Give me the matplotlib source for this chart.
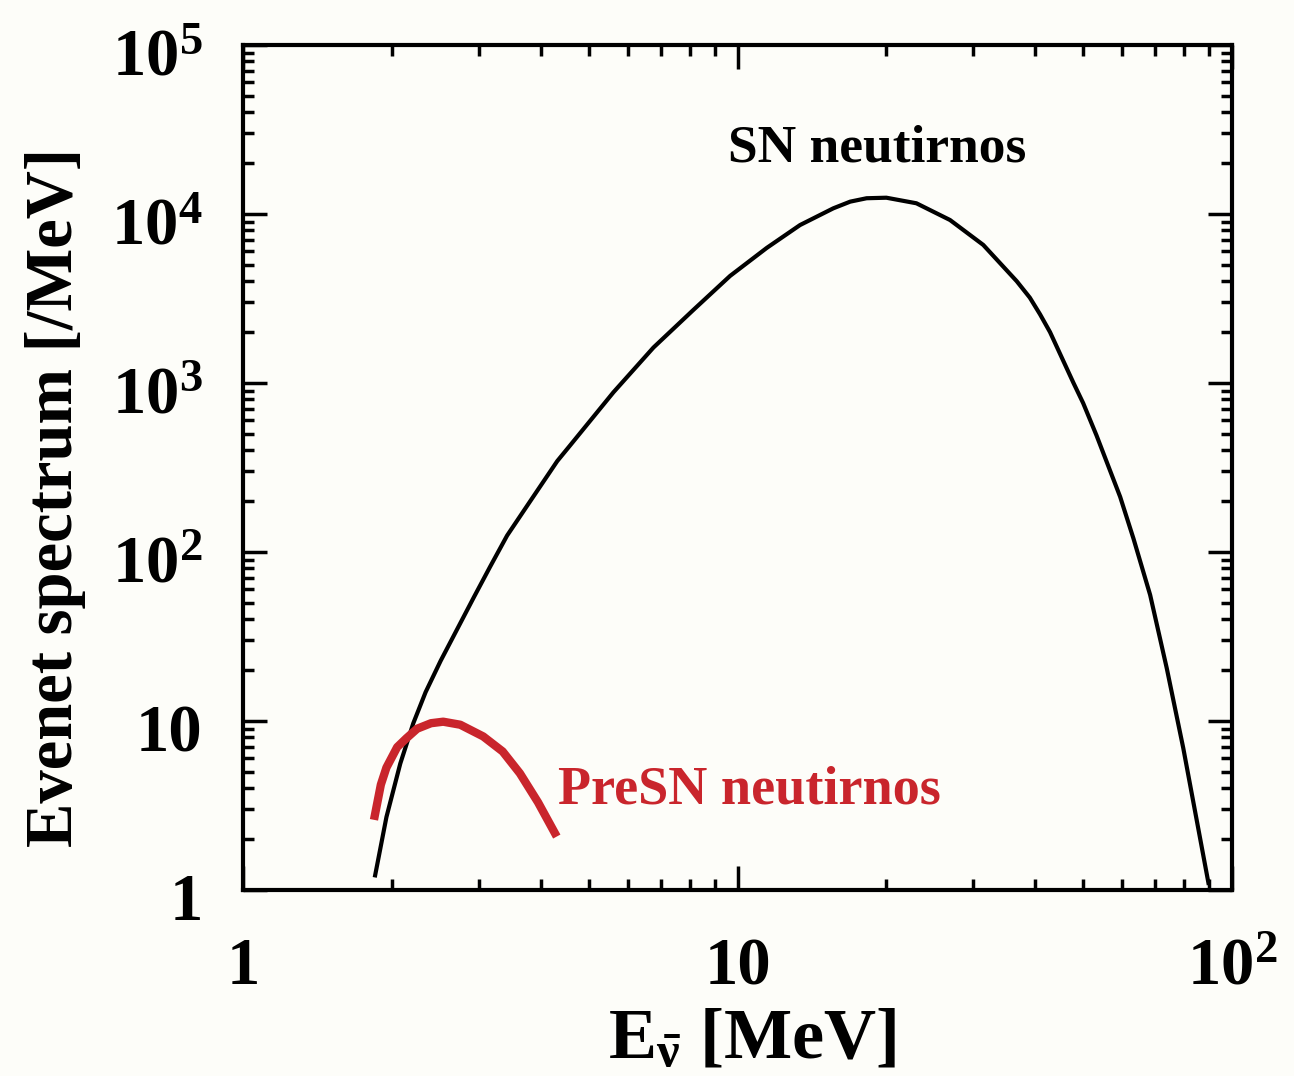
import numpy as np
import matplotlib.pyplot as plt
import matplotlib.transforms as mtransforms
from matplotlib.ticker import FixedLocator, FixedFormatter, LogLocator, NullFormatter

plt.rcParams['font.family'] = ['Liberation Serif', 'DejaVu Serif']
plt.rcParams['font.weight'] = 'bold'
plt.rcParams['mathtext.fontset'] = 'custom'
plt.rcParams['mathtext.rm'] = 'Liberation Serif:bold'
plt.rcParams['mathtext.it'] = 'Liberation Serif:bold'
plt.rcParams['mathtext.bf'] = 'Liberation Serif:bold'

# SN neutrino spectrum
sn_E = [1.85, 1.95, 2.08, 2.21, 2.34, 2.51, 2.93, 3.16, 3.42, 3.81, 4.32,
        4.58, 5.61, 6.76, 8.14, 9.66, 11.46, 13.38, 15.62, 16.9, 18.24, 20.0,
        23.0, 26.9, 31.4, 36.7, 39.0, 40.9, 42.85, 47.8, 50.0, 53.2, 59.4,
        63.2, 68.3, 73.8, 79.7, 89.6]
sn_N = [1.22, 2.7, 5.6, 9.7, 14.8, 22.7, 54, 81.8, 125, 200, 345,
        425, 880, 1620, 2704, 4300, 6300, 8600, 10800, 11830, 12390, 12480,
        11570, 9210, 6560, 4000, 3200, 2550, 2000, 1000, 760, 490, 212,
        120, 55.7, 20.5, 6.9, 1.1]

# pre-SN neutrino spectrum
pre_E = [1.84, 1.90, 1.95, 2.05, 2.14, 2.25, 2.40, 2.54, 2.75, 3.06, 3.35,
         3.63, 3.95, 4.31]
pre_N = [2.6, 4.2, 5.3, 7.0, 7.9, 9.0, 9.7, 9.9, 9.5, 8.1, 6.6,
         4.9, 3.3, 2.07]

xticks = [1, 10, 100]
xlabels = ['1', '10', r'$10^{2}$']
yticks = [1, 10, 100, 1e3, 1e4, 1e5]
ylabels = ['1', '10', r'$10^{2}$', r'$10^{3}$', r'$10^{4}$', r'$10^{5}$']

fig = plt.figure(figsize=(12.94, 10.76), dpi=100, facecolor='#fdfdf9')
ax = fig.add_axes([0.1878, 0.1729, 0.7643, 0.7853])
ax.set_facecolor('#fdfdf9')

ax.plot(sn_E, sn_N, color='black', lw=3, solid_joinstyle='round')
ax.plot(pre_E, pre_N, color='#c9252c', lw=6, solid_capstyle='butt',
        solid_joinstyle='round')

ax.set_xscale('log')
ax.set_yscale('log')
ax.set_xlim(1, 100)
ax.set_ylim(1, 1e5)

ax.xaxis.set_major_locator(FixedLocator(xticks))
ax.xaxis.set_major_formatter(FixedFormatter(xlabels))
ax.yaxis.set_major_locator(FixedLocator(yticks))
ax.yaxis.set_major_formatter(FixedFormatter(ylabels))
ax.xaxis.set_minor_locator(LogLocator(base=10, subs=np.arange(2, 10)))
ax.yaxis.set_minor_locator(LogLocator(base=10, subs=np.arange(2, 10)))
ax.xaxis.set_minor_formatter(NullFormatter())
ax.yaxis.set_minor_formatter(NullFormatter())

ax.tick_params(which='both', direction='in', top=True, right=True,
               labelsize=48, width=2.5)
ax.tick_params(which='major', length=17)
ax.tick_params(which='minor', length=8)
ax.tick_params(axis='x', pad=34)
ax.tick_params(axis='y', pad=29)
for s in ax.spines.values():
    s.set_linewidth(3)

# y tick labels sit a little below their ticks in the original
shift = mtransforms.ScaledTranslation(0, -7 / 100, fig.dpi_scale_trans)
for lab in ax.get_yticklabels():
    lab.set_transform(lab.get_transform() + shift)

ax.set_xlabel(r'E$_{\bar{\nu}}$ [MeV]', fontsize=52, fontweight='bold')
ax.xaxis.set_label_coords(0.515, -0.178)
ax.xaxis.label.set_va('center')
ax.set_ylabel('Evenet spectrum [/MeV]', fontsize=48, fontweight='bold')
ax.yaxis.set_label_coords(-0.19, 0.465)
ax.yaxis.label.set_va('center')

ax.text(0.641, 0.878, 'SN neutirnos', transform=ax.transAxes, fontsize=38.5,
        fontweight='bold', ha='center', va='center', color='black')
ax.text(0.3185, 0.118, 'PreSN neutirnos', transform=ax.transAxes, fontsize=39,
        fontweight='bold', ha='left', va='center', color='#c9252c')

fig.savefig('out.png', dpi=100, facecolor=fig.get_facecolor())
